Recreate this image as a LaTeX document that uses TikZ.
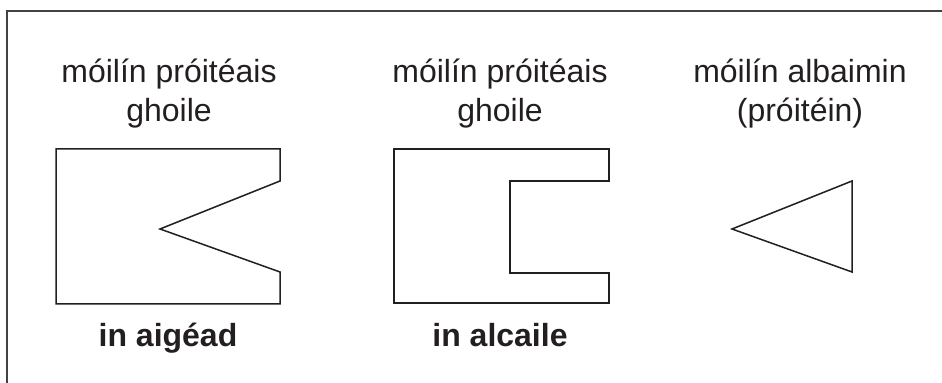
\documentclass[tikz,border=0pt]{standalone}
\usepackage{fontspec}
\setmainfont{Liberation Sans}
\usepackage{tikz}

\definecolor{ink}{RGB}{35,31,32}

\tikzset{
  heading/.style={anchor=base, align=center, inner sep=0pt, text=ink,
    font=\fontsize{16}{19.5}\selectfont},
  medium/.style={anchor=base, inner sep=0pt, text=ink,
    font=\fontsize{16}{19.5}\selectfont\bfseries},
  molecule/.style={draw=ink, line width=0.75pt, line join=miter}
}

\begin{document}
\begin{tikzpicture}[x=0.5pt,y=-0.5pt]
    \useasboundingbox (0,0) rectangle (942,383);
    \begin{scope}
      % frame
      \draw[draw=ink!85, line width=0.75pt] (7,383) -- (7,11) -- (942,11);
      % headings (base = last line)
      \node[heading] (acidhead) at (169,122) {móilín próitéais\\ghoile};
      \node[heading] (alkhead) at (500,122) {móilín próitéais\\ghoile};
      \node[heading] (albhead) at (800,122) {móilín albaimin\\(próitéin)};
      % molecules
      \draw[molecule] (56,149) -- (280,149) -- (280,181) -- (160,229)
        -- (280,272) -- (280,304) -- (56,304) -- cycle;
      \draw[molecule] (394,149) -- (609,149) -- (609,181) -- (510,181)
        -- (510,273) -- (609,273) -- (609,303) -- (394,303) -- cycle;
      \draw[molecule] (732,229) -- (852,181) -- (852,272) -- cycle;
      % media
      \node[medium] (acid) at (168,347) {in aigéad};
      \node[medium] (alkali) at (500,347) {in alcaile};
    \end{scope}
\end{tikzpicture}
\end{document}
